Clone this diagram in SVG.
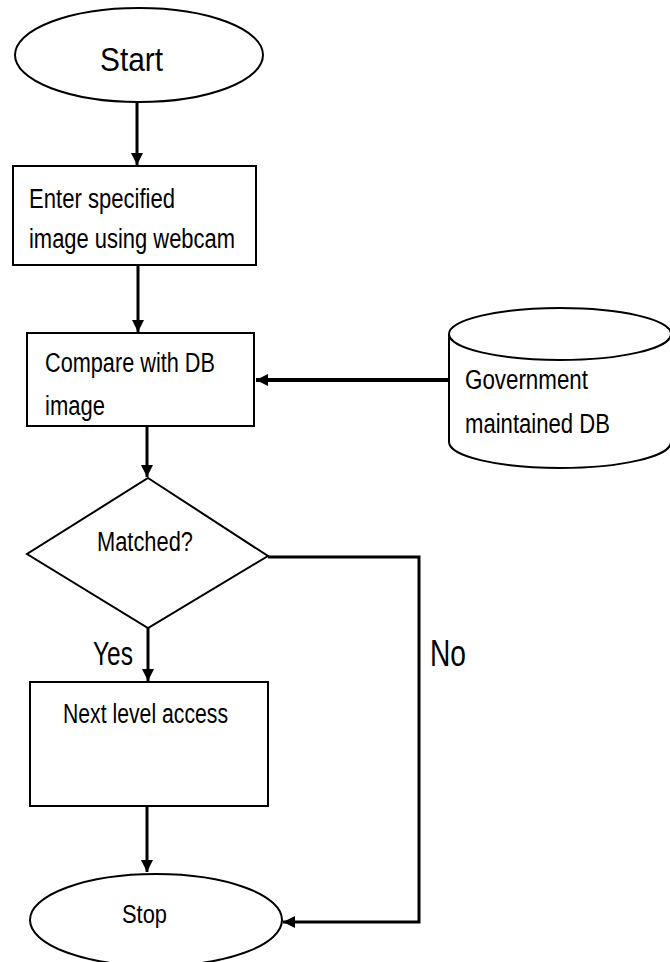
<svg xmlns="http://www.w3.org/2000/svg" width="670" height="962" viewBox="0 0 670 962">
<style>
.shape{fill:#fff;stroke:#000;stroke-width:2}
.conn{fill:none;stroke:#000;stroke-width:3}
text{font-family:"Liberation Sans",Arial,sans-serif;fill:#000}
</style>
<defs>
<marker id="arr" viewBox="0 0 10 10" refX="10" refY="5" markerWidth="12" markerHeight="12" markerUnits="userSpaceOnUse" orient="auto">
<path d="M0,0 L10,5 L0,10 z" fill="#000"/>
</marker>
</defs>
<rect width="670" height="962" fill="#fff"/>
<g id="connectors">
<line class="conn" x1="137" y1="102" x2="137" y2="165" marker-end="url(#arr)"/>
<line class="conn" x1="138" y1="265" x2="138" y2="332" marker-end="url(#arr)"/>
<line class="conn" x1="449" y1="380" x2="256" y2="380" marker-end="url(#arr)" style="stroke-width:4"/>
<line class="conn" x1="147" y1="426" x2="147" y2="477" marker-end="url(#arr)"/>
<line class="conn" x1="148" y1="628" x2="148" y2="681" marker-end="url(#arr)"/>
<line class="conn" x1="147" y1="806" x2="147" y2="872" marker-end="url(#arr)"/>
<polyline class="conn" points="268,557 419,557 419,922 283,922" marker-end="url(#arr)"/>
</g>
<g id="start">
<ellipse class="shape" cx="139" cy="55" rx="124" ry="47"/>
<text x="100" y="71" font-size="34" textLength="63" lengthAdjust="spacingAndGlyphs">Start</text>
</g>
<g id="enter-image">
<rect class="shape" x="13" y="166" width="243" height="99"/>
<text x="29" y="208" font-size="27" textLength="146" lengthAdjust="spacingAndGlyphs">Enter specified</text>
<text x="29" y="248" font-size="27" textLength="206" lengthAdjust="spacingAndGlyphs">image using webcam</text>
</g>
<g id="compare">
<rect class="shape" x="27" y="333" width="227" height="93"/>
<text x="45" y="372" font-size="27" textLength="170" lengthAdjust="spacingAndGlyphs">Compare with DB</text>
<text x="45" y="415" font-size="27" textLength="60" lengthAdjust="spacingAndGlyphs">image</text>
</g>
<g id="gov-db">
<path class="shape" d="M449,334 L449,442 A111,26 0 0 0 671,442 L671,334"/>
<ellipse class="shape" cx="560" cy="334" rx="111" ry="26"/>
<text x="465" y="389" font-size="27" textLength="123" lengthAdjust="spacingAndGlyphs">Government</text>
<text x="465" y="433" font-size="27" textLength="145" lengthAdjust="spacingAndGlyphs">maintained DB</text>
</g>
<g id="matched">
<polygon class="shape" points="148,478 268,556 148,628 27,554"/>
<text x="97" y="551" font-size="27" textLength="96" lengthAdjust="spacingAndGlyphs">Matched?</text>
</g>
<g id="labels">
<text x="93" y="665" font-size="34" textLength="40" lengthAdjust="spacingAndGlyphs">Yes</text>
<text x="430" y="666" font-size="36" textLength="36" lengthAdjust="spacingAndGlyphs">No</text>
</g>
<g id="next-level">
<rect class="shape" x="30" y="682" width="238" height="124"/>
<text x="63" y="723" font-size="27" textLength="165" lengthAdjust="spacingAndGlyphs">Next level access</text>
</g>
<g id="stop">
<ellipse class="shape" cx="156" cy="920" rx="126" ry="46"/>
<text x="122" y="923" font-size="26" textLength="45" lengthAdjust="spacingAndGlyphs">Stop</text>
</g>
</svg>
